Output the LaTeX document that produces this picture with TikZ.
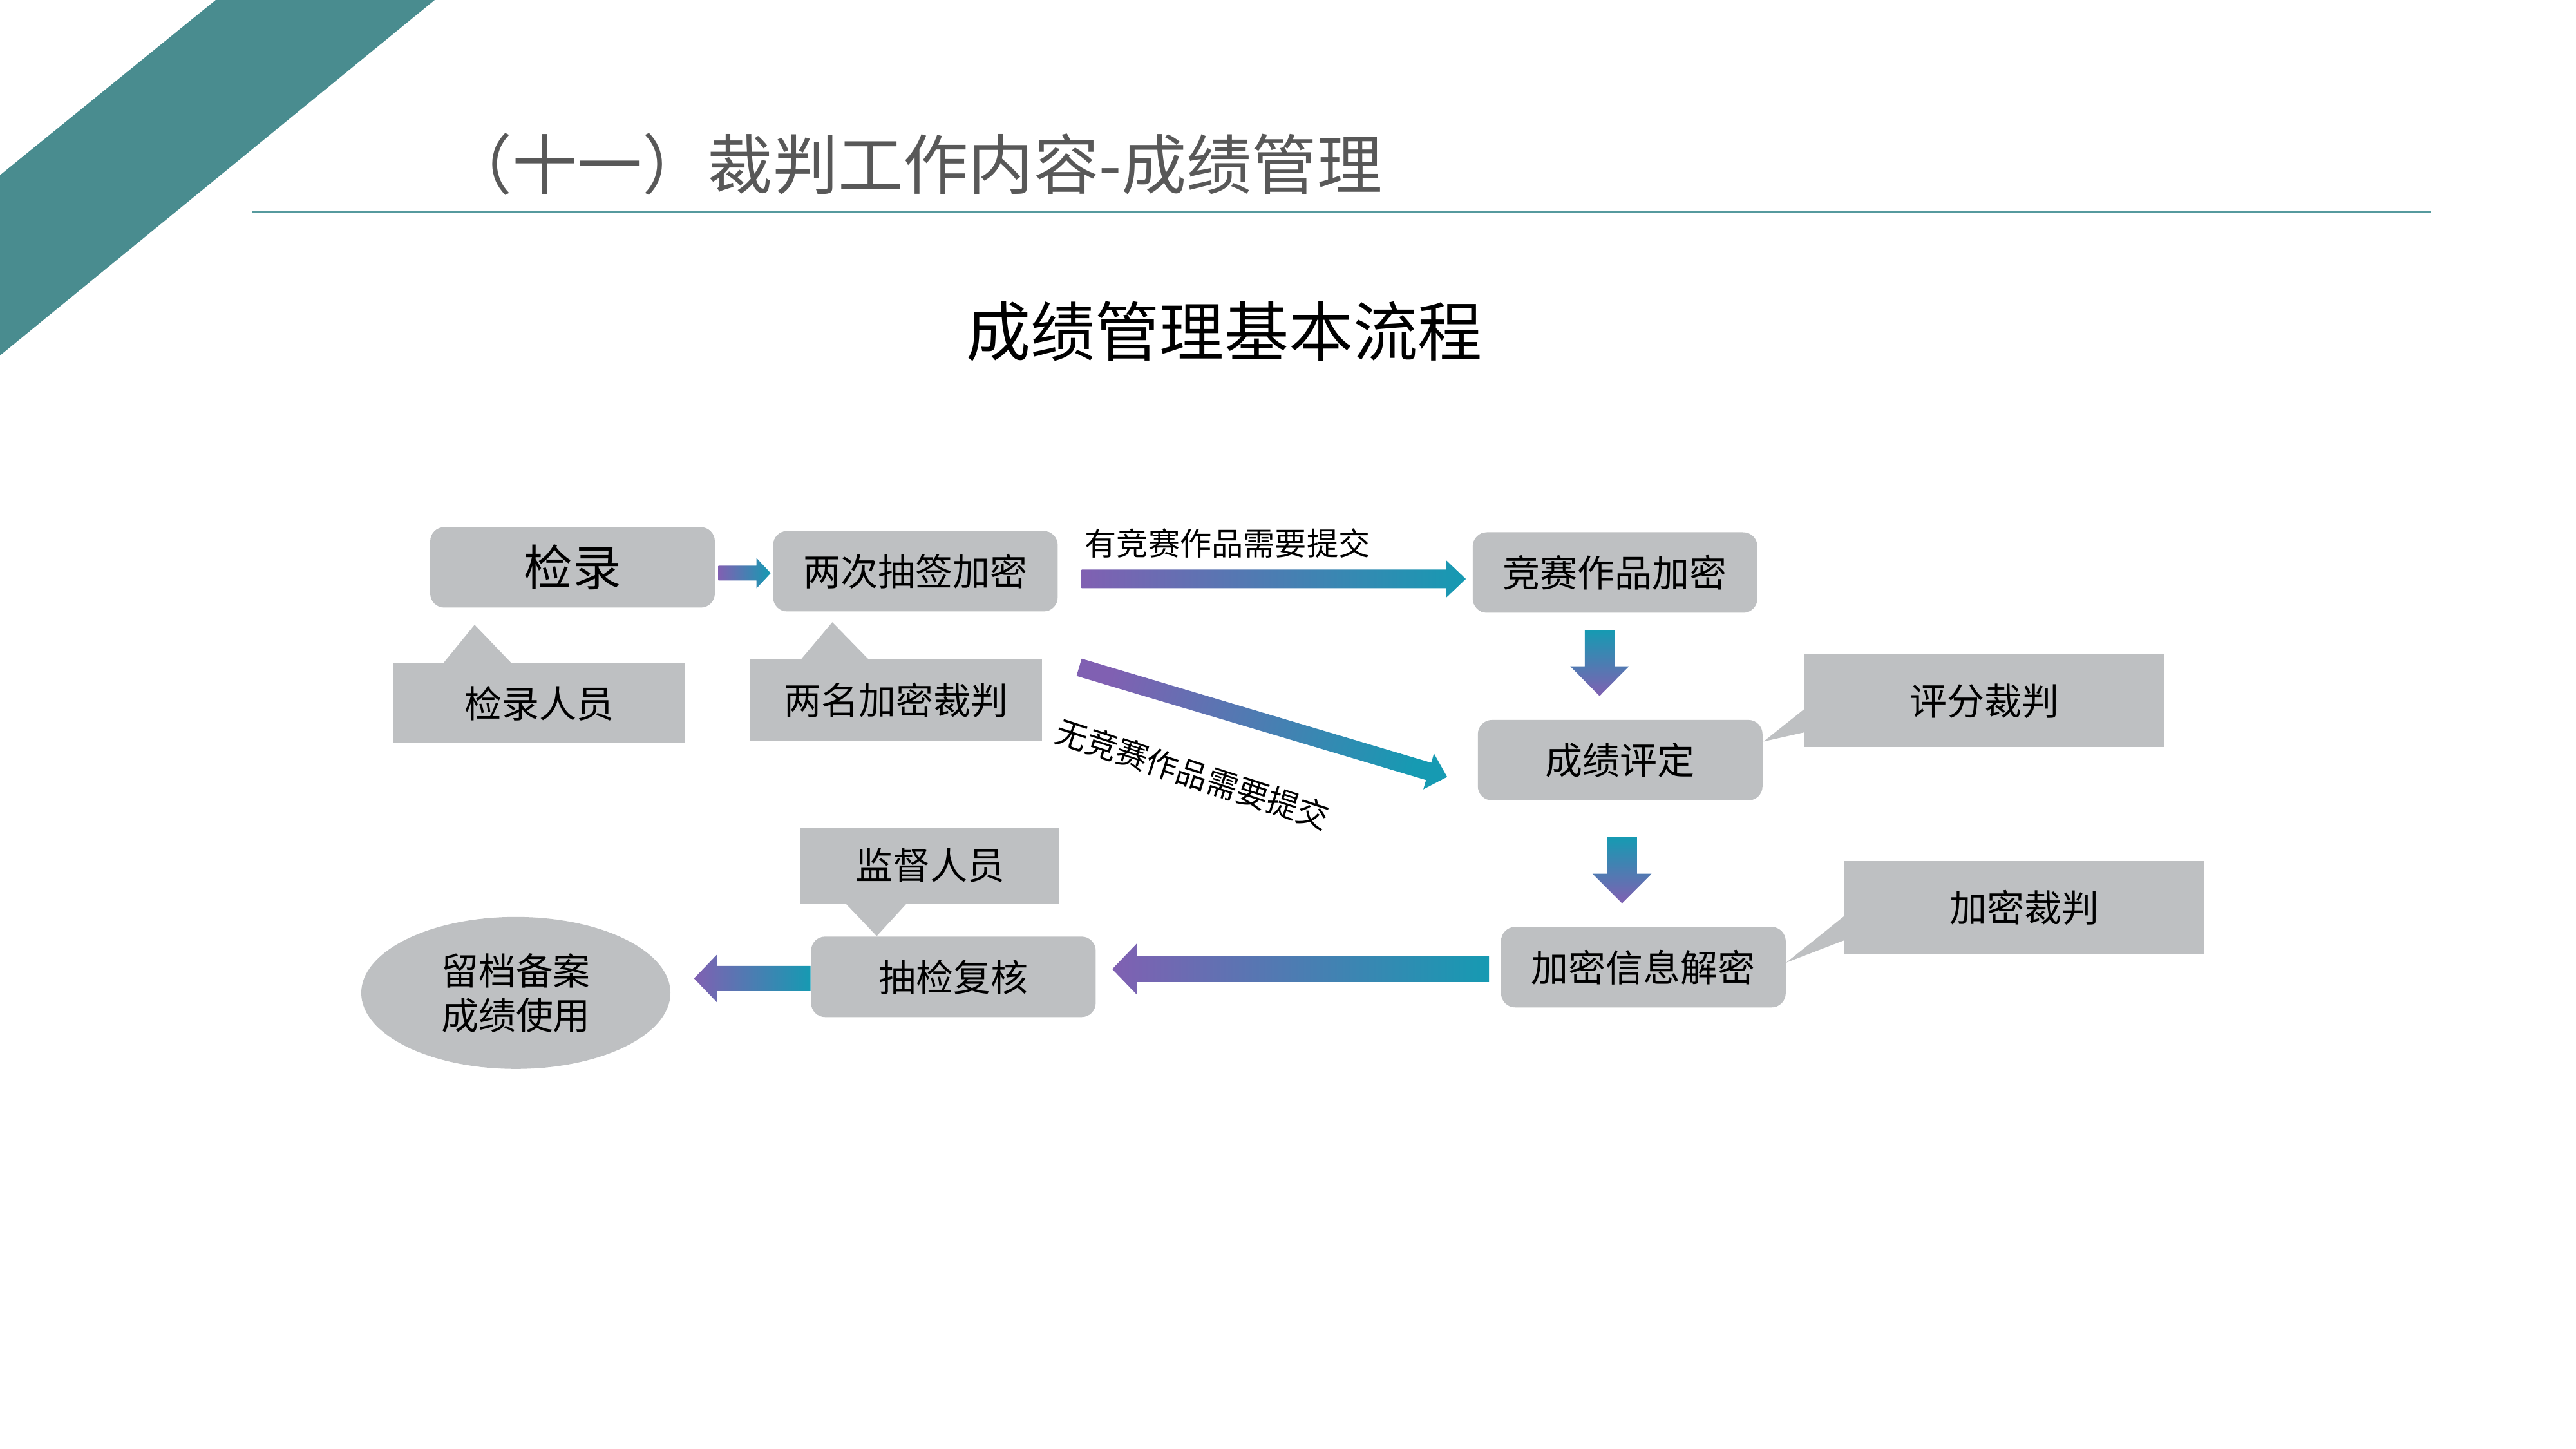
\documentclass[tikz,border=0pt]{standalone}
\usepackage{fontspec}
\setmainfont{Noto Sans CJK SC}
\usetikzlibrary{calc,positioning,shapes.geometric}
\definecolor{band}{RGB}{73,140,143}
\definecolor{rulecol}{RGB}{86,154,158}
\definecolor{boxgray}{RGB}{190,192,194}
\definecolor{titlegray}{RGB}{88,88,88}
\definecolor{arrpurple}{RGB}{128,96,178}
\definecolor{arrteal}{RGB}{22,154,178}

% block arrow: [shading]{tail}{tip}{head length}{half shaft}{half head}
\newcommand{\blockarrow}[6][]{%
  \coordinate (ba-h) at ($(#3)!#4!(#2)$);
  \shade[#1] ($(#2)!#5!90:(#3)$) -- ($(ba-h)!#5!90:(#3)$) -- ($(ba-h)!#6!90:(#3)$)
    -- (#3) -- ($(ba-h)!#6!-90:(#3)$) -- ($(ba-h)!#5!-90:(#3)$) -- ($(#2)!#5!-90:(#3)$) -- cycle;
}

\begin{document}
\begin{tikzpicture}[
  flowbox/.style={fill=boxgray, rounded corners=0.22cm, minimum width=4.42cm,
                  minimum height=1.25cm, inner sep=0, font=\fontsize{16.5}{20}\selectfont},
  notebox/.style={fill=boxgray, inner sep=0, font=\fontsize{16.5}{20}\selectfont},
  lbl/.style={inner sep=0, font=\fontsize{14}{17}\selectfont},
  hflow/.style={left color=arrpurple, right color=arrteal},
  vflow/.style={top color=arrteal, bottom color=arrpurple}
]
  \path[use as bounding box] (0,0) rectangle (40,-22.5);

  % header
  \fill[band] (3.35,0) -- (6.75,0) -- (0,-5.52) -- (0,-2.72) -- cycle;
  \node[inner sep=0, anchor=east, text=titlegray, font=\fontsize{28.8}{34}\selectfont]
    (title) at (21.47,-2.55) {（十一）裁判工作内容-成绩管理};
  \draw[rulecol, line width=0.8pt] (3.92,-3.29) -- (37.75,-3.29);
  \node[inner sep=0, font=\fontsize{28.5}{34}\selectfont] (sub) at (19.01,-5.15) {成绩管理基本流程};

  % main flow
  \node[flowbox, font=\fontsize{21.5}{26}\selectfont] (jl) at (8.89,-8.81) {检录};
  \node[flowbox, right=0.89cm of jl, yshift=-0.06cm] (cq) {两次抽签加密};
  \node[flowbox, right=6.43cm of cq, yshift=-0.02cm] (jm) {竞赛作品加密};
  \node[flowbox, below=1.65cm of jm, xshift=0.08cm] (pd) {成绩评定};
  \node[flowbox, below=1.95cm of pd, xshift=0.36cm] (jx) {加密信息解密};
  \node[flowbox, left=6.28cm of jx, yshift=-0.15cm] (fh) {抽检复核};
  \node[ellipse, fill=boxgray, minimum width=4.80cm, minimum height=2.36cm, inner sep=0,
        align=center, font=\fontsize{16.5}{19.8}\selectfont, left=2.17cm of fh, yshift=-0.25cm]
    (gd) {留档备案\\成绩使用};

  % people
  \node[notebox, minimum width=4.54cm, minimum height=1.24cm, below=0.85cm of jl, xshift=-0.52cm] (jlry) {检录人员};
  \node[notebox, minimum width=4.53cm, minimum height=1.26cm, below=0.73cm of cq, xshift=-0.30cm] (mj) {两名加密裁判};
  \node[notebox, minimum width=4.02cm, minimum height=1.18cm, above=0.50cm of fh, xshift=-0.36cm] (jd) {监督人员};
  \node[notebox, minimum width=5.58cm, minimum height=1.44cm, right=0.64cm of pd, yshift=0.92cm] (pf) {评分裁判};
  \node[notebox, minimum width=5.59cm, minimum height=1.45cm, right=0.90cm of jx, yshift=0.925cm] (jmcp) {加密裁判};

  % callout pointers
  \fill[boxgray] ([xshift=-1.51cm,yshift=-1pt]jlry.north) -- ([xshift=-1.52cm,yshift=-0.26cm]jl.south)
    -- ([xshift=-0.40cm,yshift=-1pt]jlry.north) -- cycle;
  \fill[boxgray] ([xshift=-1.50cm,yshift=-1pt]mj.north) -- ([xshift=-1.29cm,yshift=-0.16cm]cq.south)
    -- ([xshift=-0.40cm,yshift=-1pt]mj.north) -- cycle;
  \fill[boxgray] ([xshift=-1.34cm,yshift=1pt]jd.south) -- ([xshift=-1.19cm]fh.north)
    -- ([xshift=-0.34cm,yshift=1pt]jd.south) -- cycle;
  \fill[boxgray] ([xshift=1pt,yshift=-0.10cm]pf.west) -- ([xshift=0.01cm,yshift=0.29cm]pd.east)
    -- ([xshift=1pt,yshift=-0.48cm]pf.west) -- cycle;
  \fill[boxgray] ([xshift=1pt,yshift=-0.105cm]jmcp.west) -- ([yshift=0.07cm]jx.east)
    -- ([xshift=1pt,yshift=-0.495cm]jmcp.west) -- cycle;

  % arrows
  \coordinate (t1) at ([xshift=0.05cm,yshift=-0.09cm]jl.east);
  \coordinate (h1) at ([xshift=-0.03cm,yshift=-0.03cm]cq.west);
  \coordinate (t2) at ([xshift=0.365cm,yshift=-0.12cm]cq.east);
  \coordinate (h2) at ([xshift=-0.10cm,yshift=-0.10cm]jm.west);
  \coordinate (t3) at ([xshift=0.325cm,yshift=-0.86cm]cq.south east);
  \coordinate (h3) at ([xshift=-0.47cm,yshift=-0.26cm]pd.west);
  \coordinate (t4) at ([xshift=-0.24cm,yshift=-0.265cm]jm.south);
  \coordinate (h4) at ([xshift=-0.32cm,yshift=0.365cm]pd.north);
  \coordinate (t5) at ([xshift=0.03cm,yshift=-0.565cm]pd.south);
  \coordinate (h5) at ([xshift=-0.33cm,yshift=0.36cm]jx.north);
  \coordinate (t6) at ([xshift=-0.18cm,yshift=-0.03cm]jx.west);
  \coordinate (h6) at ([xshift=0.25cm,yshift=0.12cm]fh.east);
  \coordinate (t7) at ([yshift=-0.025cm]fh.west);
  \coordinate (h7) at ([xshift=0.36cm,yshift=0.225cm]gd.east);
  \blockarrow[hflow]{t1}{h1}{0.22cm}{0.115cm}{0.235cm}
  \blockarrow[hflow]{t2}{h2}{0.31cm}{0.145cm}{0.295cm}
  \blockarrow[hflow, shading angle=74]{t3}{h3}{0.30cm}{0.14cm}{0.29cm}
  \blockarrow[vflow]{t4}{h4}{0.46cm}{0.23cm}{0.455cm}
  \blockarrow[vflow]{t5}{h5}{0.46cm}{0.23cm}{0.46cm}
  \blockarrow[hflow]{t6}{h6}{0.38cm}{0.20cm}{0.395cm}
  \blockarrow[hflow]{t7}{h7}{0.36cm}{0.195cm}{0.375cm}

  \node[lbl] (yes) at (19.06,-8.44) {有竞赛作品需要提交};
  \node[lbl, rotate=-18] (no) at (18.52,-12.02) {无竞赛作品需要提交};
\end{tikzpicture}
\end{document}
